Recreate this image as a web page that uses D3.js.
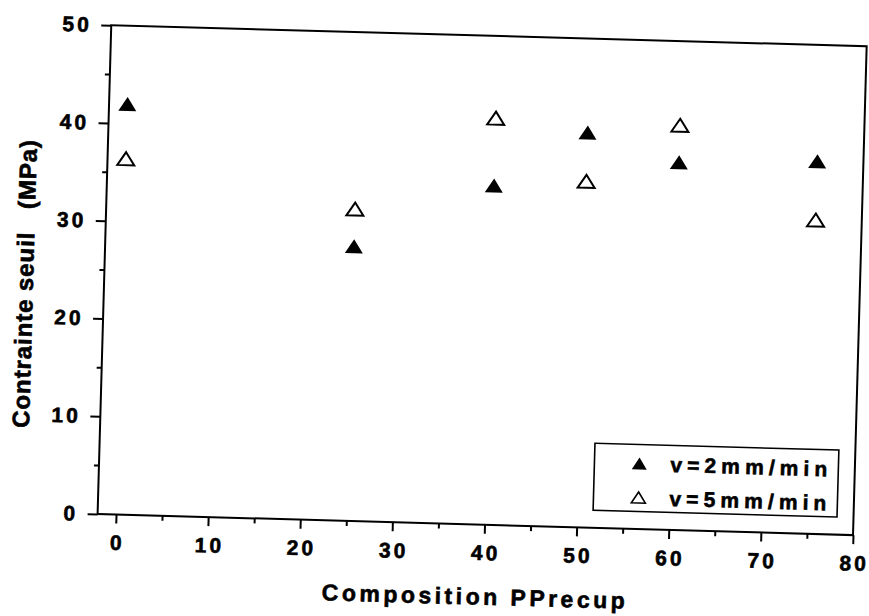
<!DOCTYPE html>
<html>
<head>
<meta charset="utf-8">
<script src="https://cdn.jsdelivr.net/npm/d3@7"></script>
<style>
  html, body { margin: 0; padding: 0; background: #fff; }
  svg { display: block; }
  .lbl { font-family: "Liberation Sans", Arial, Helvetica, sans-serif; font-weight: bold; fill: #000; stroke: #000; stroke-width: 0.6px; }
</style>
</head>
<body>
<svg id="chart" width="869" height="616"></svg>
<script>
// Composition in PP recup (%) and the yield stress at two crosshead speeds
const composition = [0, 25, 40, 50, 60, 75];
const stressV2 = [42.0, 28.1, 34.7, 40.4, 37.6, 38.1];
const stressV5 = [36.4, 31.9, 41.6, 35.4, 41.4, 32.1];
const seriesNames = ["v=2mm/min", "v=5mm/min"];
const xTickValues = [0, 10, 20, 30, 40, 50, 60, 70, 80];
const xMinorValues = [5, 15, 25, 35, 45, 55, 65, 75];
const yTickValues = [0, 10, 20, 30, 40, 50];
const yMinorValues = [5, 15, 25, 35, 45];
const xTitle = "Composition PPrecup";
const yTitle = "Contrainte seuil   (MPa)";

const W = 755.7, H = 489;
const svg = d3.select("#chart");
svg.append("rect").attr("width", 869).attr("height", 616).attr("fill", "#fff");

// plot frame, slightly tilted like the printed page
const g = svg.append("g")
  .attr("transform", `translate(97.6,514) rotate(1.6) translate(0,${-H})`);

const x = d3.scaleLinear().domain([-2, 80]).range([0, W]);
const y = d3.scaleLinear().domain([0, 50]).range([H, 0]);

// isosceles triangle centred on its bounding box
const tri = (w, h) => ({
  draw(ctx) {
    ctx.moveTo(0, -h / 2);
    ctx.lineTo(w / 2, h / 2);
    ctx.lineTo(-w / 2, h / 2);
    ctx.closePath();
  }
});

function styleAxis(sel) {
  sel.select(".domain").remove();
  sel.selectAll("line").attr("stroke", "#000").attr("stroke-width", 2);
  sel.selectAll("text").attr("class", "lbl").attr("font-size", 21)
    .attr("letter-spacing", "3px");
}

// bottom axis: major and minor ticks
g.append("g").attr("transform", `translate(0,${H})`)
  .call(d3.axisBottom(x).tickValues(xTickValues).tickSize(9).tickPadding(11.5).tickFormat(d3.format("d")))
  .call(styleAxis)
  .call(s => s.selectAll("text").attr("dx", "1.5"));
g.append("g").attr("transform", `translate(0,${H})`)
  .call(d3.axisBottom(x).tickValues(xMinorValues).tickSize(5).tickFormat(""))
  .call(styleAxis);

// left axis: major and minor ticks
g.append("g")
  .call(d3.axisLeft(y).tickValues(yTickValues).tickSize(10).tickPadding(10.5).tickFormat(d3.format("d")))
  .call(styleAxis)
  .call(s => s.selectAll("text").attr("dx", "1"));
g.append("g")
  .call(d3.axisLeft(y).tickValues(yMinorValues).tickSize(5).tickFormat(""))
  .call(styleAxis);

// frame
g.append("rect").attr("x", 0).attr("y", 0).attr("width", W).attr("height", H)
  .attr("fill", "none").attr("stroke", "#000").attr("stroke-width", 2);

// axis titles
g.append("text").attr("class", "lbl").attr("font-size", 23)
  .attr("x", W / 2).attr("y", H + 80).attr("text-anchor", "middle")
  .attr("textLength", 303).attr("lengthAdjust", "spacing")
  .text(xTitle);
g.append("text").attr("class", "lbl").attr("font-size", 24)
  .style("white-space", "pre")
  .attr("transform", "rotate(-90)")
  .attr("x", -261).attr("y", -71).attr("text-anchor", "middle")
  .attr("textLength", 288).attr("lengthAdjust", "spacing")
  .text(yTitle);

// data markers
const filled = d3.symbol().type(tri(18, 14));
const open = d3.symbol().type(tri(17, 13));

g.append("g").selectAll("path").data(composition.map((c, i) => [c, stressV2[i]]))
  .join("path")
  .attr("d", filled())
  .attr("transform", d => `translate(${x(d[0])},${y(d[1])})`)
  .attr("fill", "#000");

g.append("g").selectAll("path").data(composition.map((c, i) => [c, stressV5[i]]))
  .join("path")
  .attr("d", open())
  .attr("transform", d => `translate(${x(d[0])},${y(d[1])})`)
  .attr("fill", "#fff").attr("stroke", "#000").attr("stroke-width", 2);

// legend
const legW = 244, legH = 67;
const leg = g.append("g").attr("transform", `translate(${W - 16.5 - legW},${H - 17.6 - legH})`);
leg.append("rect").attr("width", legW).attr("height", legH)
  .attr("fill", "#fff").attr("stroke", "#000").attr("stroke-width", 1.6);
const legFilled = d3.symbol().type(tri(15, 12));
const legOpen = d3.symbol().type(tri(14, 11));
seriesNames.forEach((name, i) => {
  const cy = 19 + i * 34;
  leg.append("path").attr("d", i === 0 ? legFilled() : legOpen())
    .attr("transform", `translate(45,${cy})`)
    .attr("fill", i === 0 ? "#000" : "#fff")
    .attr("stroke", i === 0 ? "none" : "#000").attr("stroke-width", 1.6);
  leg.append("text").attr("class", "lbl").attr("font-size", 21)
    .attr("x", 76).attr("y", cy).attr("dy", "0.36em")
    .attr("textLength", 157).attr("lengthAdjust", "spacing")
    .text(name);
});
</script>
</body>
</html>
